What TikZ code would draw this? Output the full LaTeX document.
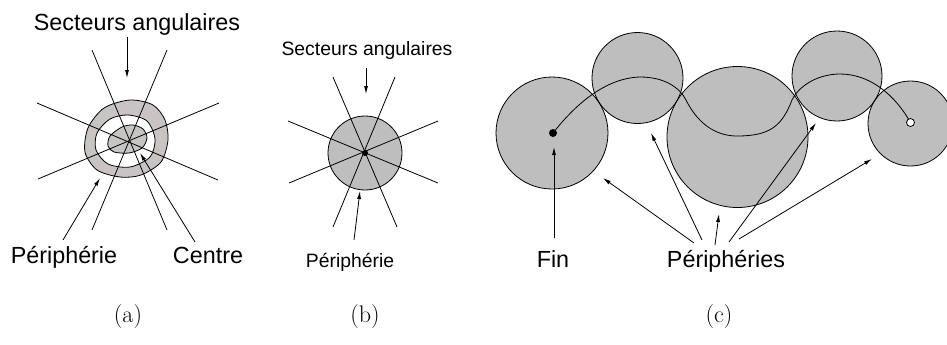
\documentclass[tikz,border=0pt]{standalone}
\usepackage{fontspec}
\newfontfamily\helv{Liberation Sans}
\usetikzlibrary{arrows.meta,positioning}
\definecolor{zonegray}{RGB}{190,190,190}
\definecolor{ringgray}{RGB}{200,196,196}

\begin{document}
\begin{tikzpicture}[x=0.75pt, y=-0.75pt,
  >={Latex[length=6pt,width=3pt]},
  lbl/.style={font=\helv\fontsize{17.5}{20}\selectfont, inner sep=0pt, anchor=base},
  lbls/.style={font=\helv\fontsize{14.5}{17}\selectfont, inner sep=0pt, anchor=base},
  captxt/.style={font=\fontsize{18}{20}\selectfont, inner sep=0pt, anchor=base},
  ray/.style={line width=0.6pt},
  ptr/.style={->, line width=0.6pt},
  zone/.style={fill=zonegray, draw, line width=0.6pt}]
\useasboundingbox (0,0) rectangle (947,344);

% (a) centre, periphery and sectors
\draw[fill=ringgray, even odd rule, line width=0.6pt]
  plot[smooth cycle] coordinates {(130,100) (153,105) (165,120) (168,140) (161,162) (141,175) (120,177) (97,170) (85,152) (88,128) (104,108)}
  plot[smooth cycle] coordinates {(128,115) (147,121) (155,139) (150,157) (130,167) (108,164) (96,150) (97,133) (110,119)};
\draw[fill=ringgray, line width=0.6pt]
  plot[smooth cycle] coordinates {(122,127) (133,125) (143,129) (147,138) (142,148) (129,153) (114,152) (108,146) (110,136)};
\draw[ray] (92,50) -- (167,230);
\draw[ray] (167,50) -- (92,230);
\draw[ray] (37,103) -- (218,180);
\draw[ray] (219,103) -- (38,179);
\node[lbl] (secta) at (137,30) {Secteurs angulaires};
\node[lbl] (peria) at (64,263) {Périphérie};
\node[lbl] (centa) at (208,263) {Centre};
\coordinate (secta tip) at (127,78);
\coordinate (peria tip) at (100,178);
\coordinate (centa tip) at (140,153);
\draw[ptr] (127,37) -- (secta tip);
\draw[ptr] (63,240) -- (peria tip);
\draw[ptr] (195,242) -- (centa tip);

% (b) disc
\node[circle, zone, minimum size=74*0.75pt, inner sep=0pt] (disc) at (365,153) {};
\draw[ray] (333,77) -- (397,227);
\draw[ray] (395,77) -- (333,227);
\draw[ray] (288,121) -- (438,183);
\draw[ray] (438,121) -- (289,183);
\fill (disc.center) circle (3);
\node[lbls] (sectb) at (367,55) {Secteurs angulaires};
\node[lbls] (perib) at (350,267) {Périphérie};
\coordinate (sectb tip) at (366,94);
\coordinate (perib tip) at (360,191);
\draw[ptr] (366,68) -- (sectb tip);
\draw[ptr] (354,240) -- (perib tip);

% (c) chain of discs
\foreach \cx/\cy/\r in {552/133/56, 637.5/78/45.5, 737.5/137/70.5, 837/76/45, 910.5/123.5/42.5}
  \fill[zonegray] (\cx,\cy) circle (\r);
\foreach \cx/\cy/\r [count=\i] in {552/133/56, 637.5/78/45.5, 737.5/137/70.5, 837/76/45, 910.5/123.5/42.5}
  \draw[line width=0.6pt] (\cx,\cy) coordinate (c\i) circle (\r);
\coordinate (start) at (553,133);
\coordinate (goal) at (910.5,122.5);
\draw[line width=0.6pt] (start) .. controls (575,105) and (605,78) .. (640,77)
  .. controls (665,77) and (680,88) .. (686,100)
  .. controls (700,128) and (720,136) .. (737,136)
  .. controls (770,136) and (782,126) .. (792,100)
  .. controls (800,84) and (820,74) .. (840,74)
  .. controls (870,74) and (895,95) .. (goal);
\fill (start) circle (4);
\draw[fill=white, line width=0.6pt] (goal) circle (4);
\node[lbl] (fin) at (553,267) {Fin};
\node[lbl] (peric) at (726,267) {Périphéries};
\coordinate (fin tip) at (554,147);
\draw[ptr] (554,238) -- (fin tip);
\coordinate (p1) at (603,178);
\coordinate (p2) at (651,133);
\coordinate (p3) at (719,214);
\coordinate (p4) at (816,123);
\coordinate (p5) at (872,159);
\draw[ptr] (694,243) -- (p1);
\draw[ptr] (702,240) -- (p2);
\draw[ptr] (715,245) -- (p3);
\draw[ptr] (729,242) -- (p4);
\draw[ptr] (739,239) -- (p5);

% captions
\node[captxt] (capa) at (128,322) {(a)};
\node[captxt] (capb) at (365,322) {(b)};
\node[captxt] (capc) at (719,322) {(c)};
\end{tikzpicture}
\end{document}
